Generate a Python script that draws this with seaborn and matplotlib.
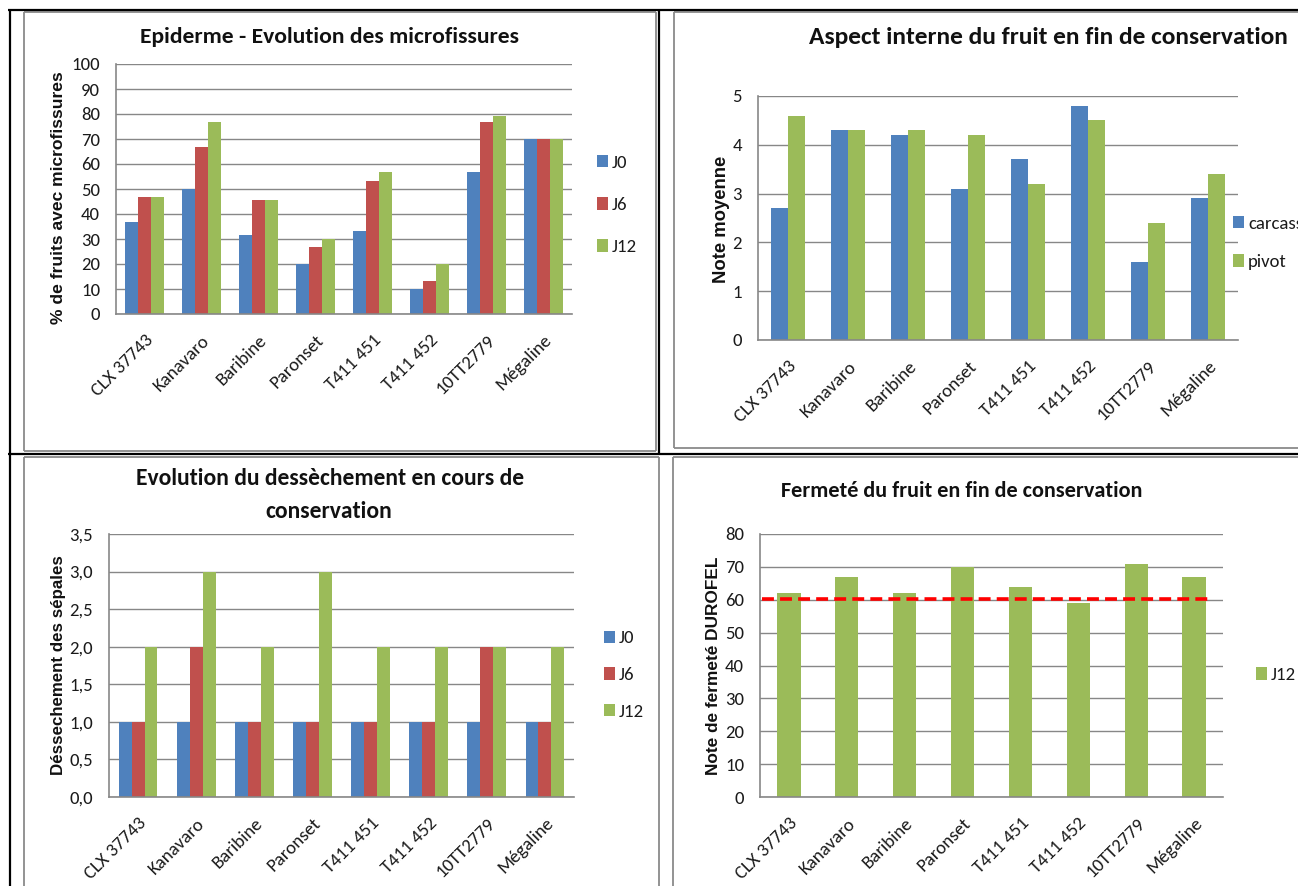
import numpy as np
import pandas as pd
import matplotlib
matplotlib.use("Agg")
import matplotlib.pyplot as plt
import seaborn as sns
from matplotlib.lines import Line2D
from matplotlib.patches import Rectangle

# ---------------- data ----------------
categories = ["CLX 37743", "Kanavaro", "Baribine", "Paronset", "T411 451", "T411 452", "10TT2779", "Mégaline"]

micro_series = ["J0", "J6", "J12"]
micro_J0 = [36.7, 50.0, 31.8, 20.0, 33.3, 10.0, 56.7, 70.0]
micro_J6 = [46.7, 66.7, 45.5, 26.7, 53.3, 13.3, 76.7, 70.0]
micro_J12 = [46.7, 76.7, 45.5, 30.0, 56.7, 20.0, 79.3, 70.0]

aspect_series = ["carcasse", "pivot"]
aspect_carcasse = [2.7, 4.3, 4.2, 3.1, 3.7, 4.8, 1.6, 2.9]
aspect_pivot = [4.6, 4.3, 4.3, 4.2, 3.2, 4.5, 2.4, 3.4]

dess_series = ["J0", "J6", "J12"]
dess_J0 = [1, 1, 1, 1, 1, 1, 1, 1]
dess_J6 = [1, 2, 1, 1, 1, 1, 2, 1]
dess_J12 = [2, 3, 2, 3, 2, 2, 2, 2]

ferm_series = ["J12"]
ferm_J12 = [62, 67, 62, 70, 64, 59, 71, 67]
ferm_threshold = 60.3

micro_ticks = [0, 10, 20, 30, 40, 50, 60, 70, 80, 90, 100]
aspect_ticks = [0, 1, 2, 3, 4, 5]
dess_ticks = [0.0, 0.5, 1.0, 1.5, 2.0, 2.5, 3.0, 3.5]
dess_ticklabels = ["0,0", "0,5", "1,0", "1,5", "2,0", "2,5", "3,0", "3,5"]
ferm_ticks = [0, 10, 20, 30, 40, 50, 60, 70, 80]

# ---------------- style ----------------
sns.set_theme(style="white")
CAL = ["Carlito", "DejaVu Sans"]
ARIAL = ["Liberation Sans", "DejaVu Sans"]
plt.rcParams["font.family"] = CAL

BLUE, RED, GREEN = "#4F81BD", "#C0504D", "#9BBB59"
GRID = "#878787"
TXT = "#1a1a1a"
W, H = 1298, 886

fig = plt.figure(figsize=(W / 100, H / 100), dpi=100)
renderer = fig.canvas.get_renderer()


def rect(x0, y0, x1, y1):
    return [x0 / W, 1 - y1 / H, (x1 - x0) / W, (y1 - y0) / H]


def fline(x0, y0, x1, y1, color, lw):
    fig.add_artist(Line2D([x0 / W, x1 / W], [1 - y0 / H, 1 - y1 / H],
                          transform=fig.transFigure, color=color, lw=lw,
                          solid_capstyle="butt"))


def fit(t, target, dim="w"):
    bb = t.get_window_extent(renderer=renderer)
    cur = bb.width if dim == "w" else bb.height
    t.set_fontsize(t.get_fontsize() * target / cur)


def long_df(series_names, arrays):
    rows = []
    for name, vals in zip(series_names, arrays):
        for c, v in zip(categories, vals):
            rows.append({"cat": c, "val": v, "serie": name})
    return pd.DataFrame(rows)


def style_axes(ax, ticks, ticklabels=None):
    ax.set_xlim(-0.5, 7.5)
    ax.set_ylim(0, ticks[-1])
    ax.set_yticks(ticks)
    if ticklabels is None:
        ticklabels = [str(t) for t in ticks]
    ax.set_yticklabels(ticklabels)
    ax.set_xticks(range(len(categories)))
    ax.set_xticklabels(categories, rotation=45, ha="right", va="top",
                       rotation_mode="anchor")
    ax.set_xticks(np.arange(-0.5, len(categories), 1.0), minor=True)
    ax.tick_params(axis="x", which="major", length=0, pad=13, labelsize=13.5,
                   labelcolor=TXT)
    ax.tick_params(axis="x", which="minor", length=6, width=1, color=GRID,
                   direction="out")
    ax.tick_params(axis="y", which="major", length=5, width=1, color=GRID,
                   direction="out", pad=6.5, labelsize=13.5, labelcolor=TXT)
    ax.yaxis.grid(True, color=GRID, lw=1.0)
    ax.xaxis.grid(False)
    ax.set_axisbelow(True)
    for s in ["top", "right"]:
        ax.spines[s].set_visible(False)
    for s in ["left", "bottom"]:
        ax.spines[s].set_color(GRID)
        ax.spines[s].set_linewidth(1.2)
    ax.set_xlabel("")
    ax.set_ylabel("")
    ax.set_facecolor("none")


def legend(ax, names, colors, x, y, spacing):
    handles = [Rectangle((0, 0), 1, 1, facecolor=c, edgecolor="none") for c in colors]
    leg = ax.legend(handles, names, loc="center left",
                    bbox_to_anchor=(x / W, 1 - y / H), bbox_transform=fig.transFigure,
                    frameon=False, handlelength=0.6, handleheight=0.65,
                    handletextpad=0.2, labelspacing=spacing, borderpad=0,
                    borderaxespad=0, prop={"family": CAL, "size": 13.5})
    for t in leg.get_texts():
        t.set_color(TXT)


def title(text, x, y, width, size=14):
    t = fig.text(x / W, 1 - y / H, text, ha="center", va="center",
                 fontsize=size, fontweight="bold", family=CAL, color="#111111")
    fit(t, width, "w")
    return t


def ylab(text, x, y, length):
    t = fig.text(x / W, 1 - y / H, text, ha="center", va="center", rotation=90,
                 fontsize=10, fontweight="bold", family=ARIAL, color="#111111")
    fit(t, length, "h")
    return t


# ---------------- chart 1 ----------------
ax1 = fig.add_axes(rect(116, 64, 572, 314))
df1 = long_df(micro_series, [micro_J0, micro_J6, micro_J12])
sns.barplot(data=df1, x="cat", y="val", hue="serie", order=categories,
            hue_order=micro_series, palette=[BLUE, RED, GREEN], width=0.667,
            saturation=1, linewidth=0, legend=False, ax=ax1, errorbar=None)
style_axes(ax1, micro_ticks)
legend(ax1, micro_series, [BLUE, RED, GREEN], 597, 205, 1.4)
title("Epiderme - Evolution des microfissures", 330, 37, 379)
ylab("% de fruits avec microfissures", 59, 198, 253)

# ---------------- chart 2 ----------------
ax2 = fig.add_axes(rect(758, 96, 1238, 340))
df2 = long_df(aspect_series, [aspect_carcasse, aspect_pivot])
sns.barplot(data=df2, x="cat", y="val", hue="serie", order=categories,
            hue_order=aspect_series, palette=[BLUE, GREEN], width=0.56,
            saturation=1, linewidth=0, legend=False, ax=ax2, errorbar=None)
style_axes(ax2, aspect_ticks)
legend(ax2, aspect_series, [BLUE, GREEN], 1233, 243, 1.2)
title("Aspect interne du fruit en fin de conservation", 1048, 37, 481)
ylab("Note moyenne", 721, 219, 127)

# ---------------- chart 3 ----------------
ax3 = fig.add_axes(rect(109, 534, 574, 797))
df3 = long_df(dess_series, [dess_J0, dess_J6, dess_J12])
sns.barplot(data=df3, x="cat", y="val", hue="serie", order=categories,
            hue_order=dess_series, palette=[BLUE, RED, GREEN], width=0.667,
            saturation=1, linewidth=0, legend=False, ax=ax3, errorbar=None)
style_axes(ax3, dess_ticks, dess_ticklabels)
legend(ax3, dess_series, [BLUE, RED, GREEN], 604, 675, 1.1)
t3 = title("Evolution du dessèchement en cours de", 330, 479, 389)
fig.text(329 / W, 1 - 512 / H, "conservation", ha="center", va="center",
         fontsize=t3.get_fontsize(), fontweight="bold", family=CAL, color="#111111")
ylab("Déssechement des sépales", 59, 665, 220)

# ---------------- chart 4 ----------------
ax4 = fig.add_axes(rect(760, 534, 1223, 797))
df4 = long_df(ferm_series, [ferm_J12])
sns.barplot(data=df4, x="cat", y="val", hue="serie", order=categories,
            hue_order=ferm_series, palette=[GREEN], width=0.4,
            saturation=1, linewidth=0, legend=False, ax=ax4, errorbar=None)
style_axes(ax4, ferm_ticks)
ax4.hlines(ferm_threshold, -0.47, 7.29, colors="#FF0000", linestyles=(0, (3.3, 1.7)),
           lw=2.6, zorder=5)
legend(ax4, ferm_series, [GREEN], 1256, 675, 1.0)
title("Fermeté du fruit en fin de conservation", 962, 491, 364)
ylab("Note de fermeté DUROFEL", 713, 666, 218)

# ---------------- table / chart frames ----------------
GRAYB = "#8a8a8a"
for (x0, y0, x1, y1) in [(24, 12, 656, 451), (674, 12, 1320, 448),
                         (24, 457, 659, 900), (673, 457, 1320, 900)]:
    fline(x0, y0, x1, y0, GRAYB, 1.3)
    fline(x0, y1, x1, y1, GRAYB, 1.3)
    fline(x0, y0, x0, y1, GRAYB, 1.3)
    fline(x1, y0, x1, y1, GRAYB, 1.3)
fline(8, 10, 1298, 10, "black", 1.6)
fline(9.5, 9, 9.5, 886, "black", 1.6)
fline(659, 10, 659, 454, "black", 1.6)
fline(8, 453.5, 1298, 453.5, "black", 1.6)

fig.savefig("out.png", dpi=100, facecolor="white")
